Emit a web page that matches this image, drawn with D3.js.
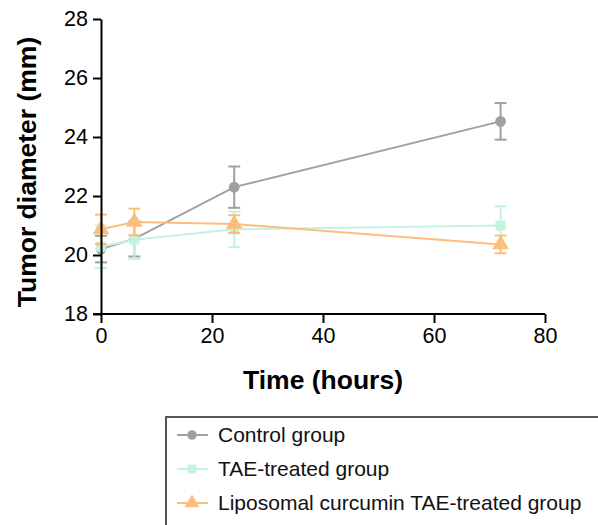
<!DOCTYPE html>
<html>
<head>
<meta charset="utf-8">
<script src="https://cdn.jsdelivr.net/npm/d3@7"></script>
<style>
  body { margin: 0; background: #fff; }
  svg { font-family: "Liberation Sans", Arial, sans-serif; display: block; }
</style>
</head>
<body>
<svg width="598" height="525"></svg>
<script>
const times = [0, 6, 24, 72];
const groupNames = ["Control group", "TAE-treated group", "Liposomal curcumin TAE-treated group"];
const controlMean = [20.2, 20.55, 22.3, 24.53];
const controlErr  = [0.45, 0.6, 0.7, 0.62];
const taeMean = [20.28, 20.52, 20.87, 21.0];
const taeErr  = [0.72, 0.65, 0.6, 0.65];
const lipoMean = [20.87, 21.12, 21.05, 20.36];
const lipoErr  = [0.5, 0.45, 0.3, 0.3];
const xTicks = [0, 20, 40, 60, 80];
const yTicks = [18, 20, 22, 24, 26, 28];

const colors = ["#a0a0a4", "#c3f3df", "#fdbd7c"];
const symbols = [d3.symbolCircle, d3.symbolSquare, d3.symbolTriangle];
const symSizes = [90, 100, 120];

const series = [
  { mean: controlMean, err: controlErr },
  { mean: taeMean, err: taeErr },
  { mean: lipoMean, err: lipoErr }
].map((s, i) => ({ name: groupNames[i], values: times.map((t, j) => ({ t, m: s.mean[j], e: s.err[j] })) }));

const svg = d3.select("svg");
const x = d3.scaleLinear().domain([0, 80]).range([101, 545]);
const y = d3.scaleLinear().domain([18, 28]).range([314, 19]);

const line = d3.line().x(d => x(d.t)).y(d => y(d.m));

// series (draw in order so orange sits on top)
series.forEach((s, i) => {
  const g = svg.append("g");
  const col = colors[i];
  g.append("path")
    .datum(s.values)
    .attr("fill", "none")
    .attr("stroke", col)
    .attr("stroke-width", 2)
    .attr("d", line);

  const eb = g.selectAll(".eb").data(s.values).enter().append("g");
  eb.append("line")
    .attr("x1", d => x(d.t)).attr("x2", d => x(d.t))
    .attr("y1", d => y(d.m - d.e)).attr("y2", d => y(d.m + d.e))
    .attr("stroke", col).attr("stroke-width", 2);
  [-1, 1].forEach(sg => {
    eb.append("line")
      .attr("x1", d => x(d.t) - 6).attr("x2", d => x(d.t) + 6)
      .attr("y1", d => y(d.m + sg * d.e)).attr("y2", d => y(d.m + sg * d.e))
      .attr("stroke", col).attr("stroke-width", 2);
  });

  g.selectAll(".pt").data(s.values).enter().append("path")
    .attr("transform", d => `translate(${x(d.t)},${y(d.m)})`)
    .attr("d", d3.symbol().type(symbols[i]).size(symSizes[i]))
    .attr("fill", col);
});

// axes
const xAxis = svg.append("g")
  .attr("transform", `translate(0,${y(18)})`)
  .call(d3.axisBottom(x).tickValues(xTicks).tickSize(9).tickPadding(5).tickSizeOuter(0));
const yAxis = svg.append("g")
  .attr("transform", `translate(${x(0)},0)`)
  .call(d3.axisLeft(y).tickValues(yTicks).tickSize(8).tickPadding(5).tickSizeOuter(0));

[xAxis, yAxis].forEach(a => {
  a.select(".domain").attr("stroke", "#000").attr("stroke-width", 2);
  a.selectAll(".tick line").attr("stroke", "#000").attr("stroke-width", 2);
  a.selectAll(".tick text").attr("font-size", 21.5).attr("fill", "#000")
    .attr("font-family", "Liberation Sans, Arial, sans-serif");
});
// x-axis extends to the y tick at 18
xAxis.select(".domain").attr("d", `M${x(0) - 8},0H${x(80)}`);

svg.append("text")
  .attr("x", (x(0) + x(80)) / 2).attr("y", 389)
  .attr("text-anchor", "middle")
  .attr("font-size", 26.5).attr("font-weight", "bold")
  .text("Time (hours)");

svg.append("text")
  .attr("transform", `translate(36,172) rotate(-90)`)
  .attr("text-anchor", "middle")
  .attr("font-size", 26.5).attr("font-weight", "bold")
  .text("Tumor diameter (mm)");

// legend
const legend = svg.append("g");
legend.append("rect")
  .attr("x", 166).attr("y", 417).attr("width", 450).attr("height", 130)
  .attr("fill", "none").attr("stroke", "#555").attr("stroke-width", 2);

const rowY = [435, 469, 503];
groupNames.forEach((name, i) => {
  const row = legend.append("g").attr("transform", `translate(0,${rowY[i]})`);
  row.append("line").attr("x1", 177).attr("x2", 208).attr("y1", 0).attr("y2", 0)
    .attr("stroke", colors[i]).attr("stroke-width", 2);
  row.append("path").attr("transform", "translate(192,0)")
    .attr("d", d3.symbol().type(symbols[i]).size(symSizes[i] * 0.8))
    .attr("fill", colors[i]);
  row.append("text").attr("x", 218).attr("y", 0).attr("dy", "0.35em")
    .attr("font-size", 21).attr("fill", "#111")
    .text(name);
});
</script>
</body>
</html>
